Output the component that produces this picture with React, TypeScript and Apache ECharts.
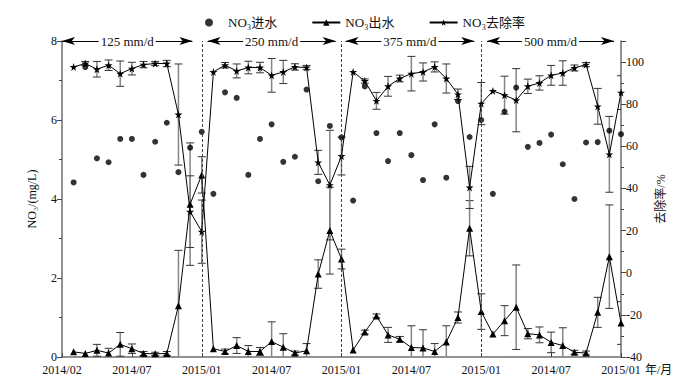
import React, { useEffect, useRef } from "react";
import * as echarts from "echarts";

const FONT = '"Liberation Serif", "Noto Sans CJK SC", serif';

// x tick labels at every 6th sample position (0, 6, ..., 48)
const xTickLabels = ["2014/02", "2014/07", "2015/01", "2014/07", "2015/01", "2014/07", "2015/01", "2014/07", "2015/01"];

// period annotations
const periodLabels = ["125 mm/d", "250 mm/d", "375 mm/d", "500 mm/d"];

// NO3 influent (mg/L)
const influent = [
  4.42, 7.34, 5.03, 4.93, 5.52, 5.52, 4.61, 5.45, 5.93, 4.68, 5.30, 5.70,
  4.13, 6.70, 6.56, 4.61, 5.52, 5.89, 4.94, 5.07, 6.77, 4.45, 5.85, 5.56,
  3.96, 6.85, 5.67, 4.96, 5.67, 5.11, 4.48, 5.89, 4.54, 6.48, 5.57, 6.00,
  4.13, 6.21, 6.82, 5.32, 5.42, 5.63, 4.88, 4.00, 5.43, 5.44, 5.73, 5.64,
];

// NO3 effluent (mg/L)
const effluent = [
  0.13, 0.09, 0.17, 0.10, 0.32, 0.21, 0.09, 0.08, 0.09, 1.30, 3.87, 4.61,
  0.21, 0.14, 0.29, 0.14, 0.14, 0.39, 0.25, 0.10, 0.16, 2.10, 3.20, 2.48,
  0.18, 0.63, 1.04, 0.56, 0.45, 0.24, 0.23, 0.14, 0.38, 1.00, 3.26, 1.15,
  0.58, 0.92, 1.26, 0.59, 0.56, 0.37, 0.29, 0.12, 0.10, 1.13, 2.54, 0.86,
];
const effluentErr = [
  0, 0, 0.15, 0.12, 0.30, 0.12, 0.05, 0.04, 0.05, 1.40, 1.55, 0.46,
  0, 0.06, 0.20, 0.15, 0.10, 0.50, 0.34, 0.05, 0.18, 0.36, 1.10, 0.25,
  0, 0.05, 0.05, 0.19, 0.07, 0.55, 0.46, 0.20, 0.41, 0.14, 0.70, 0.45,
  0, 0.38, 1.07, 0.13, 0.20, 0.26, 0.45, 0.05, 0.05, 0.38, 1.31, 0.54,
];

// NO3 removal rate (%)
const removal = [
  97.7, 99.3, 96.6, 98.5, 94.5, 96.9, 98.8, 99.3, 99.3, 75.1, 29.0, 19.5,
  95.3, 98.5, 95.8, 97.4, 97.4, 93.7, 95.3, 97.7, 97.4, 52.4, 41.6, 55.4,
  95.3, 91.0, 81.6, 88.5, 92.2, 94.5, 95.3, 97.7, 92.2, 84.7, 40.5, 80.3,
  86.3, 84.3, 81.9, 88.5, 90.1, 93.7, 94.8, 97.2, 98.8, 79.0, 56.2, 85.5,
];
const removalErr = [
  0, 1, 3.7, 2.5, 6, 3, 1.5, 1, 1.5, 24, 17, 15,
  0, 1.3, 3.3, 3, 2.5, 8, 5.5, 1.5, 1, 5.7, 26, 9,
  0, 1, 4, 4.7, 1.6, 8.2, 4.3, 2.4, 6.9, 2.5, 10, 10,
  0, 9, 15, 3.4, 3.4, 4.7, 5.8, 1.4, 1, 8.5, 18, 8,
];

const STAR = "path://M50,0 L61,35 L98,35 L68,57 L79,91 L50,70 L21,91 L32,57 L2,35 L39,35 Z";

const errRender = (params: any, api: any) => {
  const x = api.value(0);
  const y = api.value(1);
  const e = api.value(2);
  if (!e) return null;
  const p1 = api.coord([x, y + e]);
  const p2 = api.coord([x, y - e]);
  const cw = 4;
  return {
    type: "group",
    children: [
      { type: "line", shape: { x1: p1[0], y1: p1[1], x2: p2[0], y2: p2[1] }, style: { stroke: "#858585", lineWidth: 1.5 } },
      { type: "line", shape: { x1: p1[0] - cw, y1: p1[1], x2: p1[0] + cw, y2: p1[1] }, style: { stroke: "#333", lineWidth: 1 } },
      { type: "line", shape: { x1: p2[0] - cw, y1: p2[1], x2: p2[0] + cw, y2: p2[1] }, style: { stroke: "#333", lineWidth: 1 } },
    ],
  };
};

export default function App() {
  const ref = useRef<HTMLDivElement>(null);
  useEffect(() => {
    const chart = echarts.init(ref.current!, undefined, { renderer: "svg" });
    const pos = (i: number) => i + 1;
    const arrowSpans = [[0, 11.2], [12.5, 23.5], [24.35, 35.4], [36.5, 47.4]];
    const option: any = {
      animation: false,
      textStyle: { fontFamily: FONT, color: "#111" },
      grid: { left: 62, right: 79, top: 41, bottom: 26 },
      legend: {
        top: 11,
        left: 200,
        itemGap: 34,
        itemWidth: 28,
        itemHeight: 8,
        textStyle: { fontSize: 13, color: "#111", fontFamily: FONT },
        data: ["NO₃进水", "NO₃出水", "NO₃去除率"],
      },
      xAxis: {
        type: "value",
        min: 0,
        max: 48,
        interval: 6,
        splitLine: { show: false },
        axisLine: { lineStyle: { color: "#6e6e6e", width: 1.5 } },
        axisTick: { show: true, inside: true, length: 4, lineStyle: { color: "#444" } },
        axisLabel: {
          fontSize: 12,
          color: "#111",
          fontFamily: FONT,
          margin: 7,
          formatter: (v: number) => xTickLabels[Math.round(v / 6)] ?? "",
        },
      },
      yAxis: [
        {
          type: "value",
          min: 0,
          max: 8,
          interval: 2,
          name: "NO₃/(mg/L)",
          nameLocation: "middle",
          nameGap: 24,
          nameTextStyle: { fontSize: 12, color: "#111", fontFamily: FONT },
          splitLine: { show: false },
          axisLine: { show: true, lineStyle: { color: "#6e6e6e", width: 1.5 } },
          axisTick: { show: true, length: 5, lineStyle: { color: "#444" } },
          minorTick: { show: true, splitNumber: 2, length: 3, lineStyle: { color: "#444" } },
          axisLabel: { fontSize: 12, color: "#111", fontFamily: FONT, margin: 5 },
        },
        {
          type: "value",
          position: "right",
          min: -40,
          max: 110,
          interval: 20,
          name: "去除率/%",
          nameLocation: "middle",
          nameGap: 34,
          nameRotate: 90,
          nameTextStyle: { fontSize: 12, color: "#111", fontFamily: FONT },
          splitLine: { show: false },
          axisLine: { show: true, lineStyle: { color: "#6e6e6e", width: 1.5 } },
          axisTick: { show: true, length: 5, lineStyle: { color: "#444" } },
          minorTick: { show: true, splitNumber: 2, length: 3, lineStyle: { color: "#444" } },
          axisLabel: {
            fontSize: 12,
            color: "#111",
            fontFamily: FONT,
            margin: 5,
            formatter: (v: number) => (v > 100 ? "" : String(v)),
          },
        },
      ],
      series: [
        {
          name: "effErr",
          type: "custom",
          yAxisIndex: 0,
          silent: true,
          clip: true,
          z: 1,
          renderItem: errRender,
          data: effluent.map((v, i) => [pos(i), v, effluentErr[i]]),
        },
        {
          name: "remErr",
          type: "custom",
          yAxisIndex: 1,
          silent: true,
          clip: true,
          z: 1,
          renderItem: errRender,
          data: removal.map((v, i) => [pos(i), v, removalErr[i]]),
        },
        {
          name: "NO₃进水",
          type: "scatter",
          yAxisIndex: 0,
          symbol: "circle",
          symbolSize: 6,
          z: 3,
          itemStyle: { color: "#000" },
          data: influent.map((v, i) => [pos(i), v]),
          markLine: {
            silent: true,
            symbol: "none",
            animation: false,
            lineStyle: { color: "#444", type: [3, 2], width: 1 },
            label: { show: false },
            data: [{ xAxis: 12 }, { xAxis: 24 }, { xAxis: 36 }],
          },
        },
        {
          name: "NO₃出水",
          type: "line",
          yAxisIndex: 0,
          symbol: "triangle",
          symbolSize: 7,
          z: 4,
          itemStyle: { color: "#000" },
          lineStyle: { color: "#000", width: 1 },
          data: effluent.map((v, i) => [pos(i), v]),
          markLine: {
            silent: true,
            animation: false,
            symbol: ["arrow", "arrow"],
            symbolSize: [6, 13],
            lineStyle: { color: "#000", type: "solid", width: 1 },
            label: { show: false },
            data: arrowSpans.map((s) => [{ coord: [s[0], 8] }, { coord: [s[1], 8] }]),
          },
          markPoint: {
            silent: true,
            animation: false,
            symbol: "rect",
            symbolSize: 0.01,
            label: {
              show: true,
              position: "inside",
              fontSize: 13,
              color: "#111",
              fontFamily: FONT,
              backgroundColor: "#fff",
              padding: [1, 2],
            },
            data: arrowSpans.map((s, k) => ({
              coord: [(s[0] + s[1]) / 2, 8],
              value: periodLabels[k],
              label: { formatter: periodLabels[k] },
            })),
          },
        },
        {
          name: "NO₃去除率",
          type: "line",
          yAxisIndex: 1,
          symbol: STAR,
          symbolSize: 8,
          z: 4,
          itemStyle: { color: "#000" },
          lineStyle: { color: "#000", width: 1 },
          data: removal.map((v, i) => [pos(i), v]),
        },
      ],
      graphic: [
        {
          type: "text",
          left: 645,
          top: 364,
          style: { text: "年/月", fontSize: 12, fill: "#111", fontFamily: FONT },
        },
      ],
    };
    chart.setOption(option);
    return () => chart.dispose();
  }, []);
  return <div ref={ref} style={{ position: "absolute", left: 0, top: 0, width: 700, height: 383 }} />;
}
